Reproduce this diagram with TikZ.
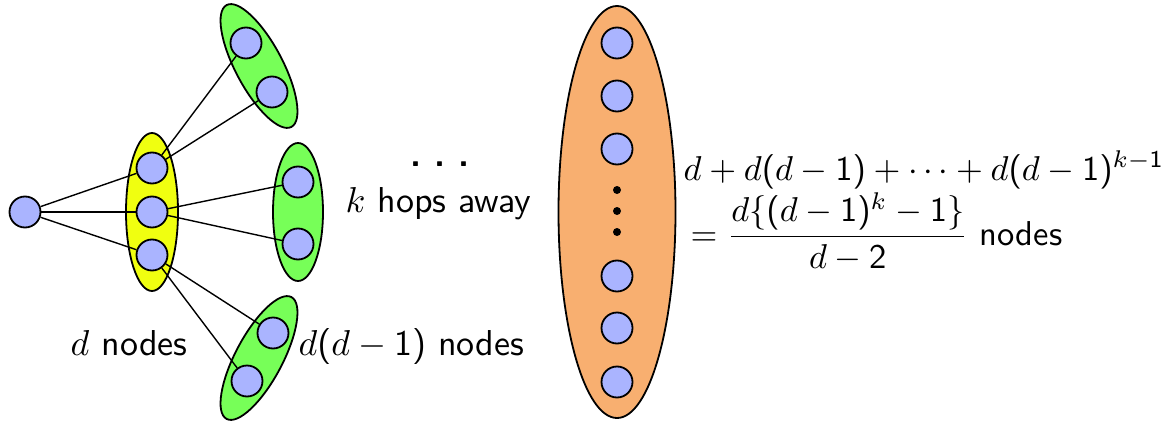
\documentclass[tikz,border=0pt]{standalone}
\usetikzlibrary{shapes.geometric}
\SetSymbolFont{operators}{normal}{OT1}{cmss}{m}{n}
\definecolor{nodeblue}{RGB}{170,180,255}
\definecolor{grpgreen}{RGB}{119,255,88}
\definecolor{grpyellow}{RGB}{240,255,16}
\definecolor{grporange}{RGB}{248,175,112}
\pgfdeclarelayer{bg}
\pgfdeclarelayer{edges}
\pgfsetlayers{bg,edges,main}
\tikzset{
  vtx/.style={circle, draw=black, line width=1.8pt, fill=nodeblue, minimum size=31pt, inner sep=0pt},
  grp/.style={ellipse, draw=black, line width=1.8pt, inner sep=0pt},
  link/.style={draw=black, line width=1.4pt},
  bigdot/.style={circle, fill=black, minimum size=8pt, inner sep=0pt},
  txtbase/.style={font=\sffamily\fontsize{10}{12}\selectfont, inner sep=0pt, anchor=base west, transform shape},
  lbl/.style={txtbase, scale=3.6},
  mlbl/.style={txtbase, scale=3.45}
}
\begin{document}
\begin{tikzpicture}[x=1pt,y=-1pt]
\useasboundingbox (0,0) rectangle (1175,428);
\begin{pgfonlayer}{bg}
  \node[grp, fill=grpyellow, minimum width=52pt, minimum height=158pt] (Y) at (152,212) {};
  \node[grp, fill=grpgreen, minimum width=47pt, minimum height=138pt, rotate=28] (GT) at (259,66) {};
  \node[grp, fill=grpgreen, minimum width=50pt, minimum height=138pt] (GM) at (298,212) {};
  \node[grp, fill=grpgreen, minimum width=47pt, minimum height=138pt, rotate=-28] (GB) at (259,358) {};
  \node[grp, fill=grporange, minimum width=117pt, minimum height=412pt] (O) at (617,212) {};
\end{pgfonlayer}
\node[vtx] (L) at (25,212) {};
\node[vtx] (Y1) at (152,168) {};
\node[vtx] (Y2) at (152,212) {};
\node[vtx] (Y3) at (152,255) {};
\node[vtx] (GT1) at (246,43) {};
\node[vtx] (GT2) at (272,92) {};
\node[vtx] (GM1) at (298,182) {};
\node[vtx] (GM2) at (298,244) {};
\node[vtx] (GB1) at (273,333) {};
\node[vtx] (GB2) at (247,381) {};
\node[vtx] (O1) at (617,43) {};
\node[vtx] (O2) at (617,96) {};
\node[vtx] (O3) at (617,149) {};
\node[vtx] (O4) at (617,276) {};
\node[vtx] (O5) at (617,328) {};
\node[vtx] (O6) at (617,382) {};
\node[bigdot] (D1) at (617,190) {};
\node[bigdot] (D2) at (617,211) {};
\node[bigdot] (D3) at (617,232) {};
\begin{pgfonlayer}{edges}
  \draw[link] (L) -- (Y1);
  \draw[link] (L) -- (Y2);
  \draw[link] (L) -- (Y3);
  \draw[link] (Y1) -- (GT1);
  \draw[link] (Y1) -- (GT2);
  \draw[link] (Y2) -- (GM1);
  \draw[link] (Y2) -- (GM2);
  \draw[link] (Y3) -- (GB1);
  \draw[link] (Y3) -- (GB2);
\end{pgfonlayer}
\node[lbl, anchor=base, font=\sffamily\bfseries\fontsize{10}{12}\selectfont] (ell) at (440,166) {.\hspace{0.36em}.\hspace{0.36em}.};
\node[lbl] (hops) at (345,212) {$k$ hops away};
\node[lbl] (dn) at (70,355) {$d$ nodes};
\node[lbl] (ddn) at (298,355) {$d(d-1)$ nodes};
\node[mlbl] (sum) at (683,180) {$d+d(d-1)+\cdots+d(d-1)^{k-1}$};
\node[mlbl] (res) at (690,245) {$\displaystyle=\frac{d\{(d-1)^k-1\}}{d-2}$ nodes};
\end{tikzpicture}
\end{document}
